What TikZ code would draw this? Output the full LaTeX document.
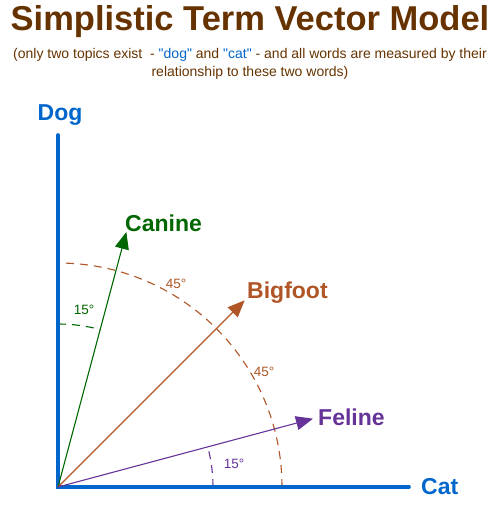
\documentclass[tikz,border=0pt]{standalone}
\usepackage{fontspec}
\setmainfont{Liberation Sans}
\usetikzlibrary{arrows.meta,calc}
\definecolor{titlebrown}{RGB}{102,51,0}
\definecolor{axisblue}{RGB}{0,102,204}
\definecolor{cgreen}{RGB}{0,102,0}
\definecolor{bbrown}{RGB}{176,85,38}
\definecolor{fpurple}{RGB}{102,51,153}
\newcommand{\qq}[1]{\textquotedbl#1\textquotedbl}
\tikzset{
  axisline/.style={axisblue, line width=3.6pt, line cap=round},
  vec/.style={line width=1.1pt, -{Triangle[length=17pt,width=14pt]}},
  arcline/.style={line width=1.1pt, dash pattern=on 8pt off 6pt},
  biglabel/.style={font=\fontsize{23}{24}\selectfont\bfseries, anchor=west, inner sep=0pt},
  deglabel/.style={font=\fontsize{13.5}{15}\selectfont, inner sep=0pt},
}
\begin{document}
\begin{tikzpicture}[x=1pt,y=1pt]
\useasboundingbox (0,0) rectangle (500,524);
\node[titlebrown, font=\fontsize{34.5}{36}\selectfont\bfseries, inner sep=0pt] (title) at (250,502) {Simplistic Term Vector Model};
\node[titlebrown, font=\fontsize{14}{18}\selectfont, inner sep=0pt] (sub1) at (250,469) {(only two topics exist \ - \textcolor{axisblue}{\qq{dog}} and \textcolor{axisblue}{\qq{cat}} - and all words are measured by their};
\node[titlebrown, font=\fontsize{14}{18}\selectfont, inner sep=0pt] (sub2) at (250,451) {relationship to these two words)};

\coordinate (O) at (58,37);
\coordinate (dogend) at (58,389);
\coordinate (catend) at (409,37);

% arcs
\draw[arcline, bbrown] ($(O)+(0:224)$) arc[start angle=0, end angle=90, radius=224];
\draw[arcline, cgreen] ($(O)+(90:163)$) arc[start angle=90, end angle=75, radius=163];
\draw[arcline, fpurple] ($(O)+(0:155)$) arc[start angle=0, end angle=15, radius=155];

% axes
\draw[axisline] (dogend) -- (O) -- (catend);

% vectors
\coordinate (cantip) at ($(O)+(75:264)$);
\coordinate (bigtip) at ($(O)+(45:264)$);
\coordinate (feltip) at ($(O)+(15:264)$);
\draw[vec, cgreen] (O) -- (cantip);
\draw[vec, bbrown] (O) -- (bigtip);
\draw[vec, fpurple] (O) -- (feltip);

% labels
\node[biglabel, axisblue, anchor=center] (dog) at (60,409) {Dog};
\node[biglabel, axisblue] (cat) at (421,37) {Cat};
\node[biglabel, cgreen] (canine) at (125,301) {Canine};
\node[biglabel, bbrown] (bigfoot) at (247,231) {Bigfoot};
\node[biglabel, fpurple] (feline) at (318,107) {Feline};

\node[deglabel, cgreen] (d1) at (84,214) {15°};
\node[deglabel, bbrown] (d2) at (176,240) {45°};
\node[deglabel, bbrown] (d3) at (264,152) {45°};
\node[deglabel, fpurple] (d4) at (234,60) {15°};
\end{tikzpicture}
\end{document}
